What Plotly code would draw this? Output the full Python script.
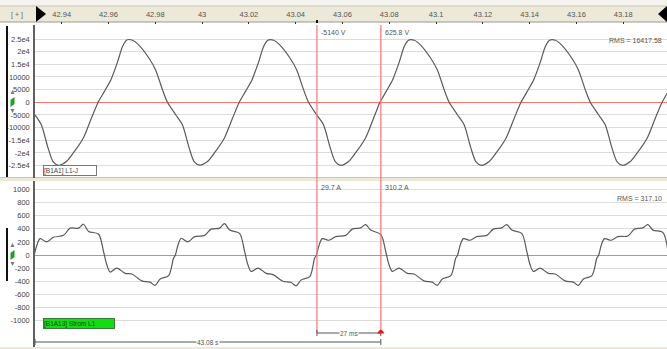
import plotly.graph_objects as go

# ---- sampled waveforms -------------------------------------------------
# catenary voltage (V)
volt_t = [
    42.9286, 42.9313, 42.9342, 42.9363, 42.9387, 42.9420, 42.9449, 42.9492, 42.9527,
    42.9556, 42.9582, 42.9610, 42.9639, 42.9660, 42.9678, 42.9703, 42.9731, 42.9774, 42.9802, 42.9831, 42.9852,
    42.9888, 42.9916, 42.9945, 42.9966, 42.9990, 43.0023, 43.0052, 43.0095, 43.0130,
    43.0159, 43.0185, 43.0213, 43.0242, 43.0263, 43.0281, 43.0306, 43.0334, 43.0377, 43.0405, 43.0434, 43.0455,
    43.0491, 43.0519, 43.0548, 43.0569, 43.0593, 43.0626, 43.0655, 43.0698, 43.0733,
    43.0760, 43.0764, 43.0786, 43.0814, 43.0843, 43.0864, 43.0882, 43.0907, 43.0935, 43.0978, 43.1006, 43.1035, 43.1056,
    43.1092, 43.1120, 43.1149, 43.1170, 43.1194, 43.1227, 43.1256, 43.1299, 43.1334,
    43.1363, 43.1389, 43.1417, 43.1446, 43.1467, 43.1485, 43.1510, 43.1538, 43.1581, 43.1609, 43.1638, 43.1659,
    43.1695, 43.1723, 43.1752, 43.1773, 43.1797, 43.1830, 43.1859, 43.1902, 43.1937,
    43.1966, 43.1992,
]
volt_v = [
    -5000, -8900, -18100, -23400, -24900, -23400, -20100, -14200, -6300,
    0, 4200, 8800, 16000, 22000, 24600, 24500, 22500, 17300, 12700, 4900, 0,
    -5000, -8900, -18100, -23400, -24800, -23400, -20100, -14200, -6300,
    0, 4200, 8800, 16000, 22000, 24500, 24500, 22500, 17300, 12700, 4900, 0,
    -5140, -8900, -18100, -23400, -24900, -23400, -20100, -14200, -6300,
    0, 625.8, 4200, 8800, 16000, 22000, 24500, 24500, 22500, 17300, 12700, 4900, 0,
    -5000, -8900, -18100, -23400, -24900, -23400, -20100, -14200, -6300,
    0, 4200, 8800, 16000, 22000, 24500, 24500, 22500, 17300, 12700, 4900, 0,
    -5000, -8900, -18100, -23400, -24900, -23400, -20100, -14200, -6300,
    0, 4200,
]

# line current (A)
curr_t = [
    42.9283, 42.9294, 42.9308, 42.9336, 42.9365, 42.9408, 42.9436, 42.9472, 42.9493, 42.9515, 42.9557,
    42.9579, 42.9593, 42.9607, 42.9636, 42.9671, 42.9700, 42.9742, 42.9778, 42.9799, 42.9821, 42.9857, 42.9878,
    42.9886, 42.9897, 42.9911, 42.9939, 42.9968, 43.0011, 43.0039, 43.0075, 43.0096, 43.0118, 43.0160,
    43.0182, 43.0196, 43.0210, 43.0239, 43.0274, 43.0303, 43.0345, 43.0381, 43.0402, 43.0424, 43.0460, 43.0481,
    43.0489, 43.0491, 43.0500, 43.0514, 43.0542, 43.0571, 43.0614, 43.0642, 43.0678, 43.0699, 43.0721, 43.0764,
    43.0785, 43.0799, 43.0813, 43.0842, 43.0877, 43.0906, 43.0948, 43.0984, 43.1005, 43.1027, 43.1063, 43.1084,
    43.1092, 43.1103, 43.1117, 43.1145, 43.1174, 43.1217, 43.1245, 43.1281, 43.1302, 43.1324, 43.1366,
    43.1388, 43.1402, 43.1416, 43.1445, 43.1480, 43.1509, 43.1551, 43.1587, 43.1608, 43.1630, 43.1666, 43.1687,
    43.1695, 43.1706, 43.1720, 43.1748, 43.1777, 43.1820, 43.1848, 43.1884, 43.1905, 43.1927, 43.1969, 43.1991,
]
curr_a = [
    0, 150, 250, 200, 270, 300, 410, 410, 470, 360, 320,
    50, -150, -260, -200, -280, -290, -395, -415, -465, -365, -315, -50,
    0, 150, 255, 200, 280, 300, 395, 410, 480, 380, 330,
    50, -150, -250, -200, -280, -300, -400, -420, -470, -380, -330, -50,
    0, 29.7, 150, 250, 225, 280, 300, 395, 415, 465, 380, 310.2,
    50, -150, -250, -200, -280, -290, -395, -415, -465, -365, -315, -50,
    0, 150, 250, 225, 280, 300, 395, 415, 465, 380, 330,
    50, -150, -250, -200, -280, -290, -395, -415, -465, -365, -315, -50,
    0, 150, 250, 225, 280, 290, 395, 415, 465, 380, 345, 50,
]

# ---- axes --------------------------------------------------------------
time_ticks = [42.94, 42.96, 42.98, 43.00, 43.02, 43.04, 43.06, 43.08, 43.10, 43.12, 43.14, 43.16, 43.18]
time_tick_text = ["42.94", "42.96", "42.98", "43", "43.02", "43.04", "43.06", "43.08", "43.1",
                  "43.12", "43.14", "43.16", "43.18"]
volt_ticks = [-25000, -20000, -15000, -10000, -5000, 0, 5000, 10000, 15000, 20000, 25000]
volt_tick_text = ["-2.5e4", "-2e4", "-1.5e4", "-10000", "-5000", "0", "5000", "10000", "1.5e4", "2e4", "2.5e4"]
curr_ticks = [-1000, -800, -600, -400, -200, 0, 200, 400, 600, 800, 1000]
curr_tick_text = [str(v) for v in curr_ticks]

# ---- cursors and annotations ------------------------------------------
cursor_t = [43.0491, 43.0764]
cursor_volt_text = ["-5140 V", "625.8 V"]
cursor_curr_text = ["29.7 A", "310.2 A"]
rms_volt_text = "RMS = 16417.58"
rms_curr_text = "RMS = 317.10"
channel_volt = "[B1A1] L1-J"
channel_curr = "[B1A13] Strom L1"
span_text = "27 ms"
abs_text = "43.08 s"

T_RANGE = [42.9286, 43.1987]
W, H = 667, 349
PLOT_LEFT = 35


def px(x):
    return x / W


def py(y):
    return 1 - y / H


SEC_PER_PX = (T_RANGE[1] - T_RANGE[0]) / (W - PLOT_LEFT)

BEIGE = "#ECE9D8"
GRID = "#DCDCDC"
RED = "#FF7373"
WAVE = "#5A5A5A"
TXT = "#555555"
FONT = "Liberation Sans"

fig = go.Figure()
fig.add_trace(go.Scatter(x=volt_t, y=volt_v, mode="lines", xaxis="x", yaxis="y",
                         line=dict(color=WAVE, width=1.2, shape="spline", smoothing=0.7),
                         hoverinfo="skip"))
fig.add_trace(go.Scatter(x=curr_t, y=curr_a, mode="lines", xaxis="x2", yaxis="y2",
                         line=dict(color=WAVE, width=1.2, shape="spline", smoothing=0.9),
                         hoverinfo="skip"))

xdom = [px(PLOT_LEFT), 1]
fig.update_layout(
    width=W, height=H,
    margin=dict(l=0, r=0, t=0, b=0),
    paper_bgcolor="white", plot_bgcolor="white",
    showlegend=False,
    font=dict(family=FONT, size=8, color=TXT),
    xaxis=dict(domain=xdom, range=T_RANGE, anchor="y", side="top",
               tickvals=time_ticks, ticktext=time_tick_text,
               ticks="outside", ticklen=2, tickcolor="#333", tickwidth=1,
               ticklabelstandoff=2,
               showgrid=False, zeroline=False, showline=False,
               tickfont=dict(size=7.5, color="#555")),
    xaxis2=dict(domain=xdom, range=T_RANGE, anchor="y2", matches="x",
                showticklabels=False, ticks="", showgrid=False, zeroline=False, showline=False),
    yaxis=dict(domain=[py(178), py(25)], range=[-29900, 30530], anchor="x",
               tickvals=volt_ticks, ticktext=volt_tick_text, ticks="",
               showgrid=True, gridcolor=GRID, gridwidth=1,
               zeroline=True, zerolinecolor=RED, zerolinewidth=1.2,
               showline=True, linecolor="#606060", linewidth=1.5,
               tickfont=dict(size=7.5, color="#444"), ticklabelstandoff=2),
    yaxis2=dict(domain=[py(347), py(181)], range=[-1405, 1130], anchor="x2",
                tickvals=curr_ticks, ticktext=curr_tick_text, ticks="",
                showgrid=True, gridcolor=GRID, gridwidth=1,
                zeroline=True, zerolinecolor=RED, zerolinewidth=1.2,
                showline=True, linecolor="#606060", linewidth=1.5,
                tickfont=dict(size=7.5, color="#444"), ticklabelstandoff=2),
)

shapes = []


def rect(x0, y0, x1, y1, fill, layer="below", line=None):
    shapes.append(dict(type="rect", xref="paper", yref="paper",
                       x0=px(x0), x1=px(x1), y0=py(y1), y1=py(y0),
                       fillcolor=fill, line=line or dict(width=0), layer=layer))


def hline(x0, x1, y, color, width=1, layer="below"):
    shapes.append(dict(type="line", xref="paper", yref="paper",
                       x0=px(x0), x1=px(x1), y0=py(y), y1=py(y),
                       line=dict(color=color, width=width), layer=layer))


def poly(points, fill, layer="above"):
    d = "M " + " L ".join(f"{px(x):.5f},{py(y):.5f}" for x, y in points) + " Z"
    shapes.append(dict(type="path", xref="paper", yref="paper", path=d,
                       fillcolor=fill, line=dict(width=0), layer=layer))


# toolbar strip with the time scale
rect(0, 0, W, 6, "#F3F2EC")
rect(0, 6, W, 22, BEIGE)
hline(0, W, 6, "#C9C5B8")
hline(0, W, 22, "#9E9A8E", 1.2)
poly([(36, 6), (46, 14), (36, 22)], "#000000")
poly([(667, 6), (658, 14), (667, 22)], "#000000")

# separator between the two channels and bottom edge
rect(0, 177.5, W, 181, BEIGE)
hline(0, W, 177.5, "#C9C5B8")
rect(0, 347, W, 349, BEIGE)

# channel selection bars and scale-arrow icons at the far left
shapes.append(dict(type="line", xref="paper", yref="paper", x0=px(7), x1=px(7),
                   y0=py(177), y1=py(26), line=dict(color="#111", width=2)))
shapes.append(dict(type="line", xref="paper", yref="paper", x0=px(7), x1=px(7),
                   y0=py(281), y1=py(228), line=dict(color="#111", width=2)))
for yc in (101, 254):
    poly([(12.5, yc - 11), (10.5, yc - 7), (14.5, yc - 7)], "#7a7a7a")
    poly([(10.5, yc + 6), (10.5, yc - 1), (14.5, yc - 4), (14.5, yc + 3)], "#1fa01f")
    poly([(12.5, yc + 12), (10.5, yc + 8), (14.5, yc + 8)], "#7a7a7a")

# cursor marker on the time strip
rect(316, 20, 318, 23, "#111", layer="above")

# measurement cursors spanning both channels
for t in cursor_t:
    shapes.append(dict(type="line", xref="x", yref="paper", x0=t, x1=t,
                       y0=py(333), y1=py(25), line=dict(color=RED, width=1.2), layer="above"))

# 27 ms span bar between cursors
tick_h = 3
span_y = 333
shapes.append(dict(type="line", xref="x", yref="paper", x0=cursor_t[0], x1=cursor_t[1],
                   y0=py(span_y), y1=py(span_y), line=dict(color="#555", width=1), layer="above"))
for t in cursor_t:
    shapes.append(dict(type="line", xref="x", yref="paper", x0=t, x1=t,
                       y0=py(span_y + tick_h), y1=py(span_y - tick_h),
                       line=dict(color="#555", width=1), layer="above"))
dx = 3.5 * SEC_PER_PX
shapes.append(dict(type="path", xref="x", yref="paper",
                   path=f"M {cursor_t[1] - dx},{py(333.5)} Q {cursor_t[1]},{py(326)} {cursor_t[1] + dx},{py(333.5)} Z",
                   fillcolor="#FF1010", line=dict(width=0), layer="above"))

# absolute-time bar from the left edge to the second cursor
abs_y = 342
shapes.append(dict(type="line", xref="x", yref="paper", x0=T_RANGE[0], x1=cursor_t[1],
                   y0=py(abs_y), y1=py(abs_y), line=dict(color="#555", width=1), layer="above"))
for t in (T_RANGE[0], cursor_t[1]):
    shapes.append(dict(type="line", xref="x", yref="paper", x0=t, x1=t,
                       y0=py(abs_y + tick_h), y1=py(abs_y - tick_h),
                       line=dict(color="#555", width=1), layer="above"))

fig.update_layout(shapes=shapes)

ann = []
ann.append(dict(text="[ + ]", xref="paper", yref="paper", x=px(17), y=py(14.5),
                showarrow=False, font=dict(size=7, color="#666"), xanchor="center", yanchor="middle"))
for t, s in zip(cursor_t, cursor_volt_text):
    ann.append(dict(text=s, xref="x", yref="paper", x=t, y=py(32), xanchor="left", yanchor="middle",
                    xshift=2, showarrow=False, font=dict(size=7, color="#555")))
for t, s in zip(cursor_t, cursor_curr_text):
    ann.append(dict(text=s, xref="x", yref="paper", x=t, y=py(187), xanchor="left", yanchor="middle",
                    xshift=2, showarrow=False, font=dict(size=7, color="#555")))
ann.append(dict(text=rms_volt_text, xref="paper", yref="paper", x=px(664), y=py(40),
                xanchor="right", yanchor="middle", showarrow=False, font=dict(size=7, color="#555")))
ann.append(dict(text=rms_curr_text, xref="paper", yref="paper", x=px(664), y=py(198),
                xanchor="right", yanchor="middle", showarrow=False, font=dict(size=7, color="#555")))
ann.append(dict(text=channel_volt, xref="paper", yref="paper", x=px(43), y=py(170.5),
                xanchor="left", yanchor="middle", showarrow=False, align="left",
                width=52, height=9, bgcolor="white", bordercolor="#777", borderwidth=1, borderpad=0,
                font=dict(size=6.5, color="#444")))
ann.append(dict(text=channel_curr, xref="paper", yref="paper", x=px(43), y=py(323),
                xanchor="left", yanchor="middle", showarrow=False, align="left",
                width=70, height=9, bgcolor="#11DD11", bordercolor="#3a7a3a", borderwidth=1, borderpad=0,
                font=dict(size=6.5, color="#114411")))
ann.append(dict(text=span_text, xref="x", yref="paper", x=(cursor_t[0] + cursor_t[1]) / 2, y=py(span_y),
                xanchor="center", yanchor="middle", showarrow=False, bgcolor="white", borderpad=0,
                font=dict(size=6.5, color="#555")))
ann.append(dict(text=abs_text, xref="x", yref="paper", x=(T_RANGE[0] + cursor_t[1]) / 2, y=py(abs_y),
                xanchor="center", yanchor="middle", showarrow=False, bgcolor="white", borderpad=0,
                font=dict(size=6.5, color="#555")))
fig.update_layout(annotations=ann)

fig.write_html("out.html")
